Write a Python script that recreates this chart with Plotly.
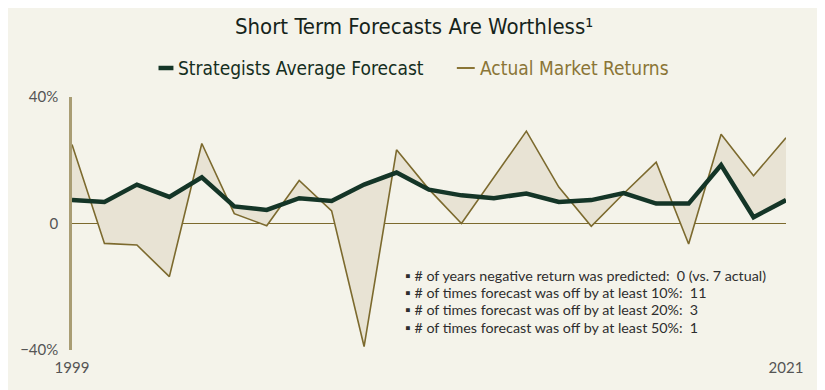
import plotly.graph_objects as go

years = list(range(1999, 2022))
forecast = [7.4, 6.8, 12.3, 8.4, 14.6, 5.4, 4.3, 8.0, 7.1, 12.3, 16.1, 10.7, 8.9, 8.0, 9.5, 6.8, 7.4, 9.6, 6.3, 6.3, 18.5, 2.0, 7.4]
actual = [25.0, -6.3, -6.8, -16.8, 25.3, 3.1, -0.7, 13.6, 4.0, -38.9, 23.3, 10.8, 0.0, 14.5, 29.2, 11.5, -0.9, 9.5, 19.4, -6.5, 28.2, 15.1, 27.1]

y_ticks = [-40, 0, 40]
y_ticktext = ["\u221240%", "0", "40%"]
x_ticks = [1999, 2021]
x_ticktext = ["1999", "2021"]

notes = [
    "\u25aa # of years negative return was predicted:  0 (vs. 7 actual)",
    "\u25aa # of times forecast was off by at least 10%:  11",
    "\u25aa # of times forecast was off by at least 20%:  3",
    "\u25aa # of times forecast was off by at least 50%:  1",
]

BG = "#F4F3EA"
FILL = "#E8E3D4"
GREEN = "#143527"
OLIVE = "#7C6A2E"
LEG_OLIVE = "#8A7536"
NARROW = "Liberation Sans Narrow, DejaVu Sans Condensed, Arial Narrow, sans-serif"
BODY = "Lato, Open Sans, sans-serif"

fig = go.Figure()
fig.add_trace(go.Scatter(x=years, y=forecast, mode="lines", line=dict(width=0.1, color=GREEN),
                         showlegend=False, hoverinfo="skip"))
fig.add_trace(go.Scatter(x=years, y=actual, mode="lines", line=dict(width=1.6, color=OLIVE),
                         fill="tonexty", fillcolor=FILL, showlegend=False))
fig.add_trace(go.Scatter(x=years, y=forecast, mode="lines", line=dict(width=4.5, color=GREEN),
                         showlegend=False))

# page body has an 8px margin; compensate so the plot lands at window coords
OFF = 8
WIN_W, WIN_H = 825, 390
PL, PR, PT, PB = 68, 786, 97, 350   # plot area in window pixels
W, H = WIN_W - OFF, WIN_H - OFF
L, T = PL - OFF, PT - OFF
R, B = WIN_W - PR, WIN_H - PB
pw = PR - PL
ph = PB - PT

def px(x):
    return (x - PL) / pw

def py(y):
    return (PB - y) / ph

fig.add_annotation(x=px(412), xref="paper", y=py(26), yref="paper",
                   text="Short Term Forecasts Are Worthless\u00b9",
                   showarrow=False, xanchor="center", yanchor="middle",
                   font=dict(family=NARROW, size=22, color="#16241B"))

# legend (symbols + labels)
fig.add_shape(type="line", xref="paper", yref="paper", x0=px(155), x1=px(170), y0=py(68), y1=py(68),
              line=dict(color=GREEN, width=4.5))
fig.add_annotation(x=px(173), xref="paper", y=py(68), yref="paper", text="Strategists Average Forecast",
                   showarrow=False, xanchor="left", yanchor="middle",
                   font=dict(family=NARROW, size=19, color="#142E21"))
fig.add_shape(type="line", xref="paper", yref="paper", x0=px(455), x1=px(473), y0=py(68), y1=py(68),
              line=dict(color=LEG_OLIVE, width=2))
fig.add_annotation(x=px(476), xref="paper", y=py(68), yref="paper", text="Actual Market Returns",
                   showarrow=False, xanchor="left", yanchor="middle",
                   font=dict(family=NARROW, size=19, color=LEG_OLIVE))

note_y = [275, 292.3, 309.6, 327]
for txt, yy in zip(notes, note_y):
    fig.add_annotation(x=px(401), xref="paper", y=py(yy), yref="paper", text=txt,
                       showarrow=False, xanchor="left", yanchor="middle", align="left",
                       font=dict(family=BODY, size=14.3, color="#2E2E2E"))

fig.update_layout(
    width=W, height=H,
    margin=dict(l=L, r=R, t=T, b=B, pad=0),
    paper_bgcolor=BG, plot_bgcolor=BG,
    showlegend=False,
    xaxis=dict(range=[1999, 2021], tickvals=x_ticks, ticktext=x_ticktext, showgrid=False,
               zeroline=False, showline=False, ticks="outside", ticklen=4, tickcolor="rgba(0,0,0,0)",
               tickfont=dict(family=BODY, size=15, color="#555555")),
    yaxis=dict(range=[-40, 40], tickvals=y_ticks, ticktext=y_ticktext, showgrid=False,
               zeroline=True, zerolinecolor=OLIVE, zerolinewidth=1.3,
               showline=True, linecolor="#A99D74", linewidth=2.5,
               ticks="outside", ticklen=8, tickcolor="rgba(0,0,0,0)",
               tickfont=dict(family=BODY, size=15, color="#555555"), layer="above traces"),
)

fig.write_html("out.html")
